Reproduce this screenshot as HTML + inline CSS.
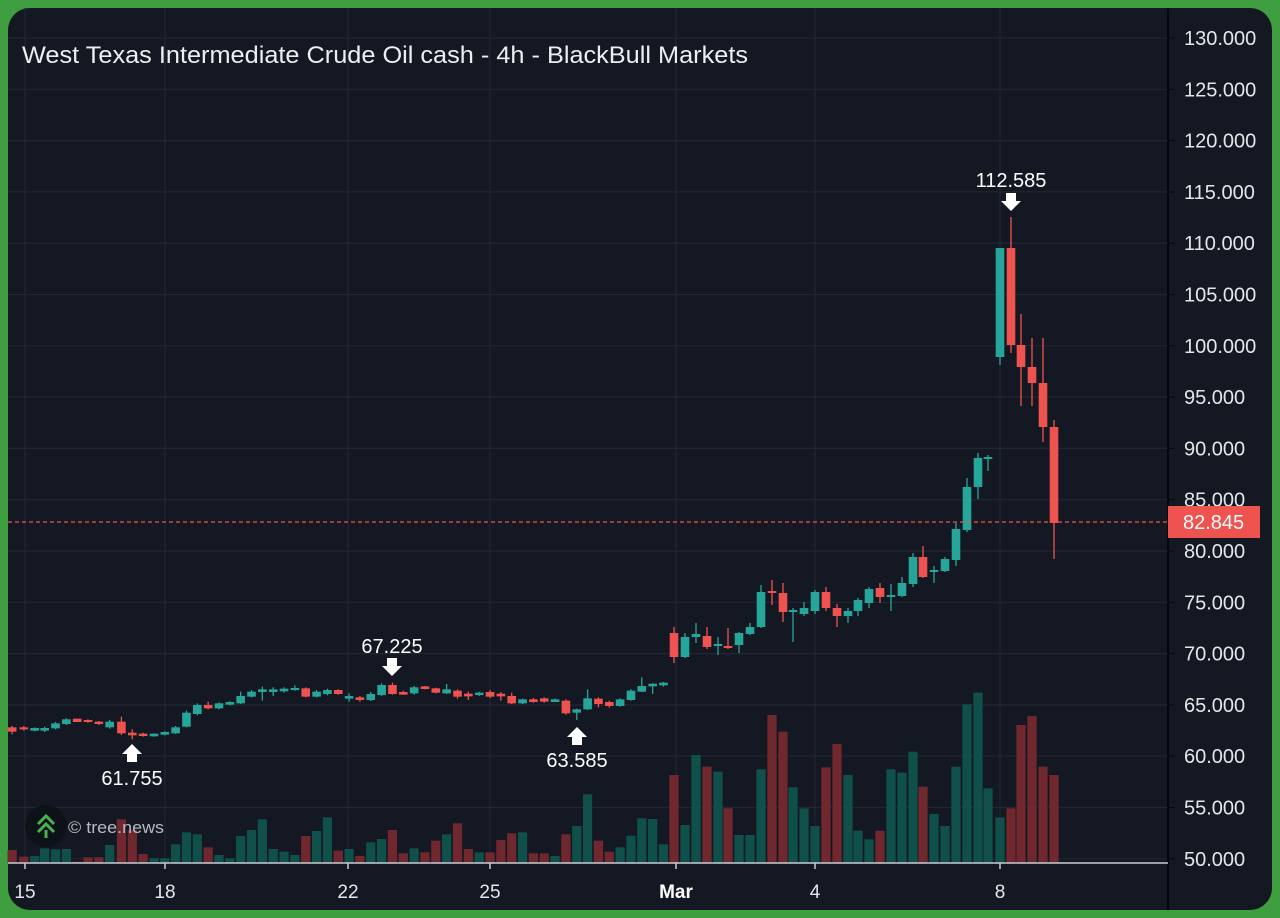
<!DOCTYPE html>
<html><head><meta charset="utf-8"><style>
html,body{margin:0;padding:0;background:#3f9e3f;width:1280px;height:918px;overflow:hidden}
svg{display:block}
text{font-family:"Liberation Sans",sans-serif}
</style></head><body>
<svg id="s" width="1280" height="918" xmlns="http://www.w3.org/2000/svg">
<rect x="0" y="0" width="1280" height="918" fill="#3f9e3f"/>
<rect x="8" y="8" width="1264" height="902" rx="22" fill="#141822"/>
<g id="grid"></g>
<g id="vol"></g>
<g id="cdl"></g>
<line x1="8" y1="522" x2="1168" y2="522" stroke="#ef5350" stroke-width="1.2" stroke-dasharray="4,3"/>
<line x1="1168" y1="8" x2="1168" y2="910" stroke="#05070b" stroke-width="2"/>
<line x1="8" y1="863" x2="1168" y2="863" stroke="#c9ccd3" stroke-width="1.5"/>
<g id="ax"></g>
<rect x="1168" y="506" width="92" height="32" fill="#ef5350"/>
<text x="1183" y="529" font-size="20" fill="#fff">82.845</text>
<text x="22" y="63" font-size="24" fill="#eceef2" textLength="726" lengthAdjust="spacingAndGlyphs">West Texas Intermediate Crude Oil cash - 4h - BlackBull Markets</text>
<g fill="#fff" font-size="20" text-anchor="middle">
<text x="392" y="653">67.225</text>
<polygon points="387,658 397,658 397,666 402,666 392,676 382,666 387,666"/>
<text x="132" y="785">61.755</text>
<polygon points="127,762 137,762 137,754 142,754 132,744 122,754 127,754"/>
<text x="577" y="767">63.585</text>
<polygon points="572,745 582,745 582,737 587,737 577,727 567,737 572,737"/>
<text x="1011" y="187">112.585</text>
<polygon points="1006,193 1016,193 1016,201 1021,201 1011,211 1001,201 1006,201"/>
</g>
<circle cx="46" cy="826" r="21" fill="#0d1118"/>
<g fill="none" stroke="#4caf50" stroke-width="3"><polyline points="38,824 46,816 54,824"/><polyline points="38,832 46,824 54,832"/></g>
<line x1="46" y1="830" x2="46" y2="838" stroke="#4caf50" stroke-width="3"/>
<text x="68" y="833" font-size="17" fill="#b7bac2" textLength="96" lengthAdjust="spacingAndGlyphs">© tree.news</text>
</svg>
<script>
var NS="http://www.w3.org/2000/svg";
function el(p,t,a,txt){var e=document.createElementNS(NS,t);for(var k in a)e.setAttribute(k,a[k]);if(txt)e.textContent=txt;document.getElementById(p).appendChild(e);}
for(var k=0;k<=16;k++){var y=38+k*51.3;el("grid","line",{x1:8,x2:1168,y1:y,y2:y,stroke:"#222632","stroke-width":1.2});
 el("ax","line",{x1:1168,x2:1174,y1:y,y2:y,stroke:"#05070b"});
 el("ax","text",{x:1184,y:y+7,"font-size":20,fill:"#e4e6ea"},(130-5*k).toFixed(3));}
var vx=[[25,"15"],[165,"18"],[348,"22"],[490,"25"],[676,"Mar"],[815,"4"],[1000,"8"]];
vx.forEach(function(v){el("grid","line",{x1:v[0],x2:v[0],y1:8,y2:863,stroke:"#222632","stroke-width":1.2});
 el("ax","line",{x1:v[0],x2:v[0],y1:863,y2:869,stroke:"#c9ccd3","stroke-width":1.5});
 el("ax","text",{x:v[0],y:898,"font-size":19,fill:v[1]=="Mar"?"#fff":"#e4e6ea","font-weight":v[1]=="Mar"?"bold":"normal","text-anchor":"middle"},v[1]);});
var G="#26a69a",R="#ef5350",VG="#10504b",VR="#70282e";
function candle(x,t,b,c,wt,wb){ if(b-t<2){t-=1;b+=1;}
 el("cdl","line",{x1:x,x2:x,y1:wt,y2:wb,stroke:c,"stroke-width":1.3});
 el("cdl","rect",{x:x-4.3,y:t,width:8.6,height:b-t,fill:c});}
var L=[[28,262,275,'r',258,283],[55,262,268,'r',258,272],[80,267,269,'g',262,274],[103,267,269,'g',260,276],[128,250,265,'g',246,268],[153,238,252,'g',235,255],[178,239,243,'r',237,245],[203,240,246,'r',238,248],[228,245,252,'r',243,255],[253,245,262,'g',240,266],[280,245,280,'r',230,285],[305,281,283,'r',268,298],[330,281,288,'r',278,290],[355,284,286,'g',280,290],[380,279,281,'g',274,286],[405,262,280,'g',258,282],[430,218,260,'g',212,262],[455,195,222,'g',190,226],[480,195,205,'r',185,208],[505,190,205,'g',187,208],[530,189,191,'g',184,196],[555,168,190,'g',155,192],[580,155,170,'g',150,172],[605,151,153,'g',140,182],[630,151,153,'g',142,168],[655,149,151,'g',142,158],[680,144,150,'g',136,152],[705,145,170,'r',142,172],[730,155,170,'g',150,172],[755,150,162,'g',146,166],[780,150,162,'r',148,164],[805,171,173,'g',160,185],[830,172,180,'r',168,185],[855,162,180,'g',156,183],[880,135,165,'g',130,168],[905,135,162,'r',128,164],[930,159,161,'r',152,164],[955,142,160,'g',138,164],[980,142,144,'r',138,148],[1005,145,158,'r',143,160],[1030,148,160,'g',132,162],[1055,152,170,'r',148,176],[1080,164,166,'r',155,180],[1105,158,165,'g',155,168],[1130,156,170,'r',150,174],[1155,164,166,'r',156,182],[1180,168,190,'r',158,192],[1205,178,190,'g',176,192],[1230,178,186,'r',174,188],[1255,175,185,'r',172,188],[1280,181,183,'g',176,186],[1305,182,220,'r',178,224],[1330,208,218,'g',206,240],[1355,175,208,'g',148,210],[1380,176,192,'r',172,202],[1405,186,198,'r',182,203],[1430,178,198,'g',175,200],[1455,152,180,'g',148,182],[1480,138,155,'g',112,156],[1505,134,136,'g',130,162],[1530,131,133,'g',126,140]];
var LV=[630,650,648,625,628,627,665,652,652,615,538,570,642,655,655,613,577,583,622,645,655,588,570,538,627,635,645,588,573,532,632,627,648,607,597,570,640,625,637,602,583,550,627,637,637,600,580,577,640,640,648,583,558,463,602,635,622,587,535,537,613];
L.forEach(function(c,i){var x=c[0]/2.306,f=function(v){return 640+v/3};
 var vt=f(LV[i]);el("vol","rect",{x:x-4.6,y:vt,width:9.2,height:863-vt,fill:c[3]=='g'?VG:VR});
 candle(x,f(c[1]),f(c[2]),c[3]=='g'?G:R,f(c[4]),f(c[5]));});
var Rc=[[674,633,657,'r',627,663],[685,637,657,'g',633,658],[696,634,637,'g',623,643],[707,636,647,'r',627,649],[718,644,646,'g',637,655],[728,646,648,'r',628,649],[739,633,645,'g',632,653],[750,627,634,'g',623,635],[761,592,627,'g',585,628],[772,591,593,'r',580,605],[783,593,612,'r',583,622],[793,610,612,'g',608,642],[804,608,614,'g',602,616],[815,592,611,'g',590,614],[826,592,608,'r',587,611],[837,608,616,'r',604,627],[848,611,616,'g',608,623],[858,600,611,'g',598,616],[869,589,603,'g',587,608],[880,588,597,'r',583,603],[891,595,597,'g',584,611],[902,583,596,'g',577,597],[913,557,584,'g',553,587],[923,557,577,'r',546,578],[934,570,572,'g',566,583],[945,559,571,'g',557,572],[956,529,560,'g',523,566],[967,487,530,'g',478,532],[978,458,487,'g',453,499],[988,457,459,'g',455,471],[1000,248,357,'g',248,365],[1011,248,345,'r',217,353],[1021,345,367,'r',314,406],[1032,367,383,'r',338,406],[1043,383,427,'r',338,442],[1054,427,523,'r',420,559]];
var RV=[[1005,'r'],[1155,'g'],[945,'g'],[980,'r'],[995,'g'],[1105,'r'],[1185,'g'],[1185,'g'],[988,'g'],[825,'r'],[875,'r'],[1042,'g'],[1105,'g'],[1158,'g'],[982,'r'],[912,'r'],[1005,'g'],[1172,'g'],[1198,'g'],[1172,'r'],[988,'g'],[998,'g'],[935,'g'],[1040,'r'],[1122,'g'],[1158,'g'],[980,'g'],[793,'g'],[758,'g'],[1045,'g'],[1132,'g'],[1105,'r'],[855,'r'],[828,'r'],[980,'r'],[1005,'r']];
Rc.forEach(function(c,i){var x=c[0];var vt=440+RV[i][0]/3;
 el("vol","rect",{x:x-4.6,y:vt,width:9.2,height:863-vt,fill:RV[i][1]=='g'?VG:VR});
 candle(x,c[1],c[2],c[3]=='g'?G:R,c[4],c[5]);});
</script>
</body></html>
